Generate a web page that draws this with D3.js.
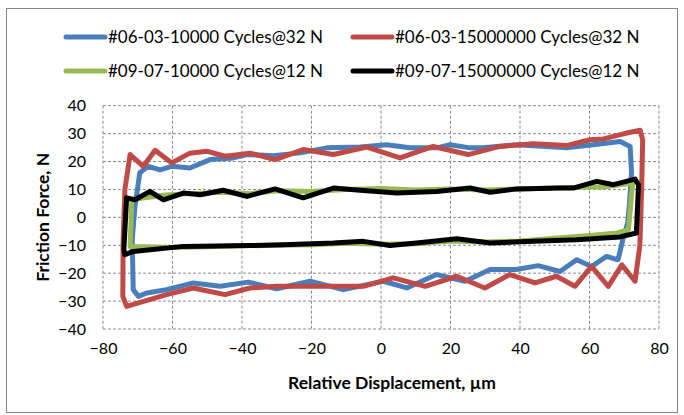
<!DOCTYPE html>
<html>
<head>
<meta charset="utf-8">
<script src="https://cdn.jsdelivr.net/npm/d3@7"></script>
<style>
  body { margin: 0; background: #fff; }
  svg { display: block; }
</style>
</head>
<body>
<div class="chart"></div>
<script>
// ---- data ----
const seriesNames = ["#06-03-10000 Cycles@32 N", "#06-03-15000000 Cycles@32 N",
                     "#09-07-10000 Cycles@12 N", "#09-07-15000000 Cycles@12 N"];
const seriesColors = ["#4A7EBB", "#BE4B48", "#98B954", "#000000"];

// each loop: top (left->right), right side, bottom (right->left), left side
const loop_0603_10k = [
  [-69.4,16],[-67,18.3],[-63.6,17],[-60.2,18.3],[-55,17.7],[-49.2,20.7],[-42.5,21.3],[-38.6,22.5],
  [-31,22.1],[-23.3,23.1],[-15.6,24.9],[-6,25.2],[1.6,26],[8.3,24.9],[16,24.9],[19.9,26],[25.6,24.9],
  [29.4,24.9],[39,26],[53.4,24.9],[61,26],[68.8,27.2],[71.7,25.4],
  [72.1,16],[71.5,5],[71,-1.9],[69.6,-8],[68.2,-15.2],
  [64.9,-14],[60.6,-17.6],[56.3,-15.2],[51.5,-19.4],[45.2,-17.3],[39,-18.7],[31.4,-18.7],[24.2,-22.9],
  [16,-20.5],[7.4,-25.3],[0.7,-22.9],[-10.8,-25.9],[-20.4,-22.9],[-30,-25.6],[-38.2,-23.2],[-46.3,-24.7],
  [-54,-23.5],[-61.7,-25.9],[-67.4,-27.1],[-69.8,-28.3],
  [-71.3,-25.9],[-71.6,-8],[-70.8,4],[-69.4,16]
];
const loop_0603_15m = [
  [-72.2,22.5],[-68.4,18.3],[-65,24],[-60.2,19.5],[-55,23],[-50.2,23.7],[-44.9,21.9],[-37.7,23],
  [-30.5,20.7],[-22.4,24.3],[-13.7,22.5],[-4.1,25.2],[5.5,21.3],[15,25.4],[25.1,22.5],[34.2,25.4],
  [43.8,26.4],[53.4,25.7],[60.1,27.8],[64,28.1],[70.7,30.2],[74.6,31.2],
  [75.3,27.8],[75,10],[74.5,-10],[73.1,-22.9],
  [69.3,-17],[65.4,-24.7],[60.6,-17.6],[55.8,-24.7],[50.5,-21.1],[44.3,-23.5],[37.1,-20.5],[29.9,-25.3],
  [21.8,-21.1],[12.7,-24.7],[3.5,-21.7],[-5.1,-24.7],[-13.7,-24.7],[-21.4,-24.7],[-30,-24.7],[-37.7,-25.3],
  [-44.9,-27.7],[-54,-25.3],[-61.7,-27.7],[-73.2,-31.9],
  [-74.3,-28.3],[-74.2,-8],[-73.7,10],[-72.2,22.5]
];
const loop_0907_10k = [
  [-71.7,6.3],[-68,7],[-62,8],[-55,8.5],[-45,9],[-38,8.5],[-30,9.5],[-20,9.3],[-10,10],[0,10.3],
  [10,9.8],[20,10.2],[30,9.8],[40,10.2],[50,10.5],[58,10.8],[65,11],[72.4,12.3],
  [71.2,-4.4],[68,-5.6],
  [60,-6.5],[50,-7.5],[40,-8.5],[30,-8.8],[20,-8.5],[10,-9.5],[0,-9.6],[-10,-9.3],[-20,-9.8],
  [-30,-10],[-40,-10.2],[-50,-10.5],[-60,-10.8],[-72.2,-10.4],
  [-71.7,6.3]
];
const loop_0907_15m = [
  [-73.2,7],[-70.8,6.3],[-66.5,9.3],[-62.6,6.3],[-56.9,8.7],[-52,8.1],[-45.4,9.7],[-38.6,7.5],
  [-30.5,10.2],[-22.4,7],[-13.7,10.5],[-6,9.7],[4.5,8.7],[16,9.3],[25.6,10.5],[31.4,9],[39,10.2],
  [51.5,10.5],[55.3,10.5],[62.1,12.9],[66.9,11.7],[73.1,13.7],[74.1,11.7],
  [73.5,-5.6],
  [68.8,-7],[56.3,-8],[43.8,-8.6],[31.4,-9.2],[21.8,-7.7],[10.2,-9.2],[2.6,-10.1],[-5.1,-8.6],
  [-13.7,-9.2],[-28.1,-9.8],[-37.7,-10.1],[-56.9,-10.4],[-71.3,-12.2],[-73.7,-13.4],
  [-74,-11.6],[-73.2,7]
];
const loops = [loop_0603_10k, loop_0603_15m, loop_0907_10k, loop_0907_15m];

const xTicks = [-80, -60, -40, -20, 0, 20, 40, 60, 80];
const yTicks = [-40, -30, -20, -10, 0, 10, 20, 30, 40];
const xTitle = "Relative Displacement, \u00b5m";
const yTitle = "Friction Force, N";

// ---- helpers ----
const append_line = function(g, x1, y1, x2, y2, stroke, width, dash) {
    var ret = g.append("line").attr("x1", x1).attr("y1", y1).attr("x2", x2).attr("y2", y2)
            .attr("stroke", stroke).attr("stroke-width", width);
    if (dash != "") ret = ret.attr("stroke-dasharray", dash);
    return ret;
};

const append_text = function(g, x, y, text, size, anchor, weight) {
    return g.append("text").attr("x", x).attr("y", y)
        .attr("font-family", "Lato, 'Open Sans', sans-serif")
        .attr("font-size", size).attr("text-anchor", anchor)
        .attr("font-weight", weight).attr("fill", "#000").text(text);
};

const W = 684, H = 415;
const svg = d3.select(".chart").append("svg").attr("width", W).attr("height", H);

// chart frame
svg.append("rect").attr("x", 6.5).attr("y", 8.5).attr("width", 671).attr("height", 404)
    .attr("fill", "#fff").attr("stroke", "#868686").attr("stroke-width", 1);

const x = d3.scaleLinear().domain([-80, 80]).range([103, 659]);
const y = d3.scaleLinear().domain([-40, 40]).range([329, 105.7]);

// gridlines (dashed, also the plot border)
const grid = svg.append("g");
xTicks.forEach(t => append_line(grid, x(t), y(40), x(t), y(-40), "#8a8a8a", 1, "3,2"));
yTicks.forEach(t => append_line(grid, x(-80), y(t), x(80), y(t), "#8a8a8a", 1, "3,2"));

// axes, only the labels are shown
const xAxis = svg.append("g").attr("transform", `translate(0,${y(-40)})`)
    .call(d3.axisBottom(x).tickValues(xTicks).tickSize(0).tickPadding(14));
const yAxis = svg.append("g").attr("transform", `translate(${x(-80)},0)`)
    .call(d3.axisLeft(y).tickValues(yTicks).tickSize(0).tickPadding(17));
[xAxis, yAxis].forEach(a => {
    a.select(".domain").remove();
    a.selectAll("text").attr("font-family", "Lato, 'Open Sans', sans-serif")
        .attr("font-size", 16).attr("fill", "#000");
});

append_text(svg, (x(-80) + x(80)) / 2 + 11, 389, xTitle, 17.5, "middle", "bold");
append_text(svg, 0, 0, yTitle, 17.5, "middle", "bold")
    .attr("transform", `translate(49,${(y(40) + y(-40)) / 2}) rotate(-90)`);

// the loops
const line = d3.line().x(d => x(d[0])).y(d => y(d[1]));
const plot = svg.append("g");
loops.forEach((pts, i) => {
    plot.append("path").attr("d", line(pts)).attr("fill", "none")
        .attr("stroke", seriesColors[i]).attr("stroke-width", 5)
        .attr("stroke-linejoin", "round").attr("stroke-linecap", "round");
});

// legend: 2 x 2
const legX = [66, 353], legY = [37, 71];
seriesNames.forEach((name, i) => {
    var lx = legX[i % 2], ly = legY[Math.floor(i / 2)];
    append_line(svg, lx, ly, lx + 39, ly, seriesColors[i], 5, "").attr("stroke-linecap", "round");
    append_text(svg, lx + 42, ly + 6, name, 17, "start", "normal");
});
</script>
</body>
</html>
